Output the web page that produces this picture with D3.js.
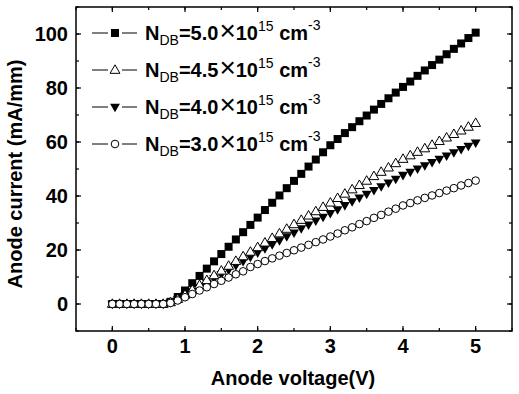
<!DOCTYPE html>
<html>
<head>
<meta charset="utf-8">
<script src="https://cdn.jsdelivr.net/npm/d3@7"></script>
<style>
  body { margin: 0; background: #fff; }
  svg { display: block; font-family: "Liberation Sans", Arial, sans-serif; }
</style>
</head>
<body>
<svg id="chart" width="519" height="394"></svg>
<script>
// anode voltage (V)
var voltage = [0,0.1,0.2,0.3,0.4,0.5,0.6,0.7,0.8,0.9,1.0,1.1,1.2,1.3,1.4,1.5,1.6,1.7,1.8,1.9,2.0,
  2.1,2.2,2.3,2.4,2.5,2.6,2.7,2.8,2.9,3.0,3.1,3.2,3.3,3.4,3.5,3.6,3.7,3.8,3.9,4.0,
  4.1,4.2,4.3,4.4,4.5,4.6,4.7,4.8,4.9,5.0];

// anode current (mA/mm) per doping
var i50 = [0,0,0,0,0,0,0,0,0.8,2.6,5.0,7.7,10.4,13.1,15.8,18.5,21.2,23.9,26.6,29.3,32.0,
  34.8,37.5,40.2,42.9,45.6,48.2,50.9,53.5,56.2,58.8,61.1,63.3,65.5,67.7,69.8,72.0,74.1,76.2,78.3,80.4,
  82.4,84.5,86.5,88.5,90.5,92.5,94.5,96.5,98.5,100.5];
var i45 = [0,0,0,0,0,0,0,0,0.6,1.8,3.4,5.2,7.0,8.8,10.6,12.3,14.1,15.9,17.6,19.3,21.0,
  22.7,24.4,26.1,27.8,29.5,31.1,32.7,34.3,35.9,37.5,39.2,40.8,42.4,44.0,45.6,47.3,48.9,50.5,52.1,53.7,
  55.0,56.3,57.6,58.9,60.3,61.6,62.9,64.2,65.6,67.0];
var i40 = [0,0,0,0,0,0,0,0,0.5,1.6,3.0,4.6,6.2,7.8,9.4,11.0,12.6,14.2,15.8,17.4,19.0,
  20.5,22.0,23.5,25.0,26.4,27.9,29.3,30.8,32.2,33.6,35.0,36.5,37.9,39.3,40.7,42.1,43.5,44.9,46.3,47.7,
  48.9,50.1,51.3,52.5,53.7,54.9,56.1,57.3,58.5,59.7];
var i30 = [0,0,0,0,0,0,0,0,0.4,1.3,2.5,3.7,5.0,6.2,7.4,8.6,9.8,11.0,12.1,13.7,14.8,
  15.9,16.9,17.9,18.9,19.9,20.9,21.9,22.9,23.9,25.0,26.1,27.3,28.4,29.6,30.7,31.9,33.0,34.2,35.3,36.5,
  37.4,38.4,39.3,40.2,41.1,42.0,42.9,43.9,44.8,45.7];

var seriesNames = ["5.0", "4.5", "4.0", "3.0"];
var xTicks = [0, 1, 2, 3, 4, 5];
var yTicks = [0, 20, 40, 60, 80, 100];

(function() {
var svg = d3.select("#chart");
var pL = 76, pR = 512, pT = 7, pB = 331;

var x = d3.scaleLinear().domain([-0.5, 5.5]).range([pL, pR]);
var y = d3.scaleLinear().domain([-10, 110]).range([pB, pT]);

// frame
svg.append("rect")
  .attr("x", pL).attr("y", pT)
  .attr("width", pR - pL).attr("height", pB - pT)
  .attr("fill", "none").attr("stroke", "#000").attr("stroke-width", 1.5);

var xMinor = d3.range(-0.5, 5.51, 0.5);
var yMinor = d3.range(-10, 110.1, 10);

function tickLines(vals, len, horiz) {
  vals.forEach(function(v) {
    if (horiz) {
      var px = x(v);
      svg.append("line").attr("x1", px).attr("x2", px).attr("y1", pB).attr("y2", pB - len)
        .attr("stroke", "#000").attr("stroke-width", 1.2);
      svg.append("line").attr("x1", px).attr("x2", px).attr("y1", pT).attr("y2", pT + len)
        .attr("stroke", "#000").attr("stroke-width", 1.2);
    } else {
      var py = y(v);
      svg.append("line").attr("y1", py).attr("y2", py).attr("x1", pL).attr("x2", pL + len)
        .attr("stroke", "#000").attr("stroke-width", 1.2);
      svg.append("line").attr("y1", py).attr("y2", py).attr("x1", pR).attr("x2", pR - len)
        .attr("stroke", "#000").attr("stroke-width", 1.2);
    }
  });
}
tickLines(xMinor, 3, true);
tickLines(xTicks, 5, true);
tickLines(yMinor, 3, false);
tickLines(yTicks, 5, false);

// tick labels
svg.selectAll("text.xl").data(xTicks).join("text")
  .attr("class", "xl")
  .attr("x", function(d) { return x(d); }).attr("y", 353)
  .attr("text-anchor", "middle").attr("font-size", 20).attr("font-weight", "bold")
  .text(function(d) { return d; });
svg.selectAll("text.yl").data(yTicks).join("text")
  .attr("class", "yl")
  .attr("x", 68).attr("y", function(d) { return y(d) + 7; })
  .attr("text-anchor", "end").attr("font-size", 20).attr("font-weight", "bold")
  .text(function(d) { return d; });

// axis titles
svg.append("text").attr("x", 293).attr("y", 385)
  .attr("text-anchor", "middle").attr("font-size", 20).attr("font-weight", "bold")
  .text("Anode voltage(V)");
svg.append("text")
  .attr("transform", "translate(22,174) rotate(-90)")
  .attr("text-anchor", "middle").attr("font-size", 20).attr("font-weight", "bold")
  .text("Anode current (mA/mm)");

// markers
function drawMarker(g, type, cx, cy) {
  if (type === "square") {
    g.append("rect").attr("x", cx - 4).attr("y", cy - 4).attr("width", 8).attr("height", 8)
      .attr("fill", "#000");
  } else if (type === "up") {
    g.append("path").attr("d", d3.symbol(d3.symbolTriangle, 42)())
      .attr("transform", "translate(" + cx + "," + (cy + 0.5) + ")")
      .attr("fill", "#fff").attr("stroke", "#000").attr("stroke-width", 1);
  } else if (type === "down") {
    g.append("path").attr("d", d3.symbol(d3.symbolTriangle, 42)())
      .attr("transform", "translate(" + cx + "," + (cy - 0.5) + ") rotate(180)")
      .attr("fill", "#000");
  } else {
    g.append("circle").attr("cx", cx).attr("cy", cy).attr("r", 3.8)
      .attr("fill", "#fff").attr("stroke", "#000").attr("stroke-width", 1);
  }
}

var series = [
  { name: seriesNames[0], vals: i50, type: "square" },
  { name: seriesNames[1], vals: i45, type: "up" },
  { name: seriesNames[2], vals: i40, type: "down" },
  { name: seriesNames[3], vals: i30, type: "circle" }
];

var drawOrder = [0, 2, 1, 3];
drawOrder.forEach(function(k) {
  var s = series[k];
  var g = svg.append("g");
  voltage.forEach(function(v, i) {
    drawMarker(g, s.type, x(v), y(s.vals[i]));
  });
});

// legend
var legY = [33, 70, 107, 144];
series.forEach(function(s, k) {
  var ly = legY[k];
  var g = svg.append("g");
  g.append("line").attr("x1", 92).attr("x2", 108).attr("y1", ly).attr("y2", ly)
    .attr("stroke", "#000").attr("stroke-width", 1);
  g.append("line").attr("x1", 122).attr("x2", 137).attr("y1", ly).attr("y2", ly)
    .attr("stroke", "#000").attr("stroke-width", 1);
  drawMarker(g, s.type, 115, ly);
  var t = g.append("text").attr("x", 145).attr("y", ly + 7)
    .attr("font-size", 20).attr("font-weight", "bold");
  t.append("tspan").text("N");
  t.append("tspan").attr("font-size", 14).attr("font-weight", "normal").attr("dy", 5).text("DB");
  t.append("tspan").attr("dy", -5).text("=" + s.name);
  t.append("tspan").attr("font-weight", "normal").attr("font-size", 28).attr("dx", 1).text("\u00D7");
  t.append("tspan").text("10");
  t.append("tspan").attr("font-size", 14).attr("font-weight", "normal").attr("dy", -9).text("15");
  t.append("tspan").attr("dy", 9).text(" cm");
  t.append("tspan").attr("font-size", 14).attr("font-weight", "normal").attr("dy", -10).text("-3");
});
})();
</script>
</body>
</html>
